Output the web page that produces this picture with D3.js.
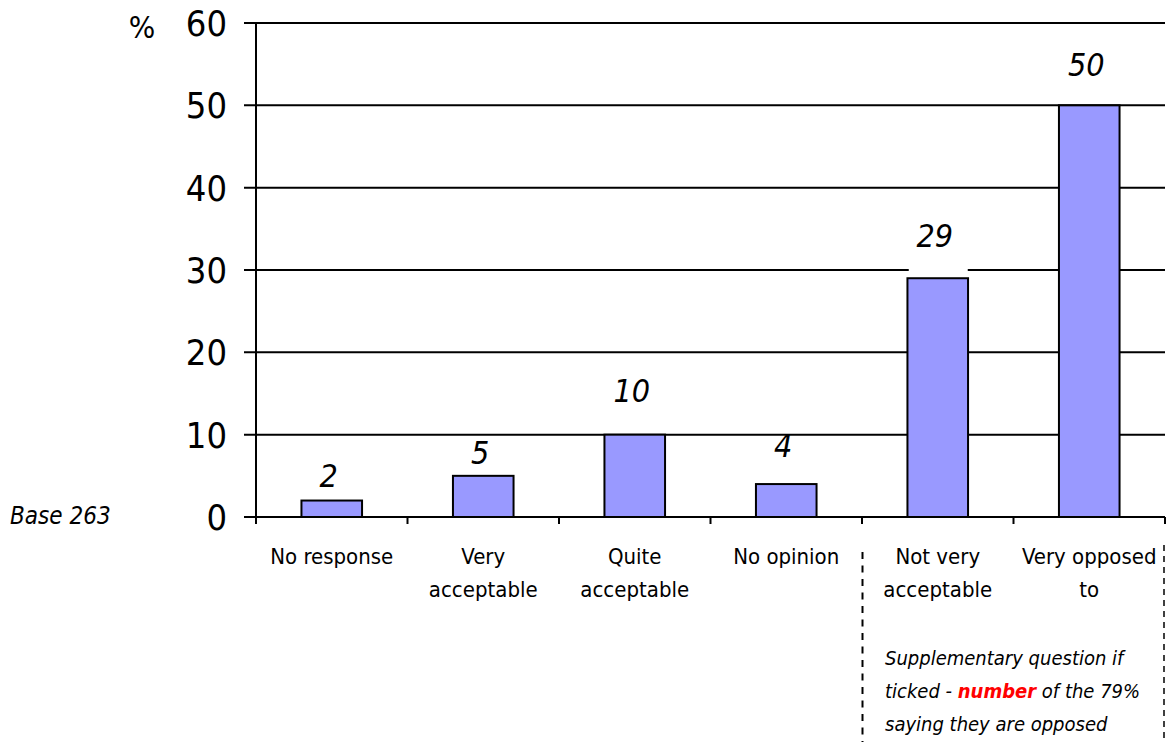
<!DOCTYPE html>
<html>
<head>
<meta charset="utf-8">
<script src="https://cdn.jsdelivr.net/npm/d3@7/dist/d3.min.js"></script>
<style>
  html, body { margin: 0; padding: 0; background: #fff; }
  svg { display: block; }
  text { font-family: "DejaVu Sans Condensed", "DejaVu Sans", sans-serif; fill: #000; }
</style>
</head>
<body>
<svg id="chart" width="1176" height="742"></svg>
<script>
// Survey answers (% of respondents, base 263)
const categories = [
  ["No response"],
  ["Very", "acceptable"],
  ["Quite", "acceptable"],
  ["No opinion"],
  ["Not very", "acceptable"],
  ["Very opposed", "to"]
];
const values = [2, 5, 10, 4, 29, 50];
const yTicks = [0, 10, 20, 30, 40, 50, 60];
const baseNote = "Base 263";
const noteLines = [
  [{ t: "Supplementary question if" }],
  [{ t: "ticked - " }, { t: "number", hl: true }, { t: " of the 79%" }],
  [{ t: "saying they are opposed" }]
];

// Vertical gap (px) between each bar top and its value label
const labelGap = [14, 12, 33, 27, 31, 29];

const svg = d3.select("#chart");
const plotLeft = 256, plotRight = 1165, plotTop = 23, plotBottom = 517;

const x = d3.scaleBand()
  .domain(d3.range(categories.length))
  .range([plotLeft, plotRight])
  .paddingInner(0.6)
  .paddingOuter(0.3);

const y = d3.scaleLinear().domain([0, 60]).range([plotBottom, plotTop]);

// Horizontal gridlines with their tick stubs
svg.append("g")
  .selectAll("line")
  .data(yTicks)
  .join("line")
  .attr("x1", plotLeft - 12).attr("x2", plotRight)
  .attr("y1", d => y(d)).attr("y2", d => y(d))
  .attr("stroke", "#000").attr("stroke-width", 2);

// Y tick labels
svg.append("g")
  .selectAll("text")
  .data(yTicks)
  .join("text")
  .attr("x", 227)
  .attr("y", d => y(d))
  .attr("dy", "0.36em")
  .attr("text-anchor", "end")
  .attr("font-size", 36)
  .text(d => d);

svg.append("text")
  .attr("x", 142).attr("y", 38)
  .attr("text-anchor", "middle")
  .attr("font-size", 31)
  .text("%");

// Y axis line
svg.append("line")
  .attr("x1", plotLeft).attr("x2", plotLeft)
  .attr("y1", plotTop).attr("y2", plotBottom + 7)
  .attr("stroke", "#000").attr("stroke-width", 2);

// Category ticks under the baseline
const bounds = d3.range(categories.length + 1).map(i => plotLeft + i * x.step());
svg.append("g")
  .selectAll("line")
  .data(bounds)
  .join("line")
  .attr("x1", d => d).attr("x2", d => d)
  .attr("y1", plotBottom).attr("y2", plotBottom + 7)
  .attr("stroke", "#000").attr("stroke-width", 2);

// Bars
svg.append("g")
  .selectAll("rect")
  .data(values)
  .join("rect")
  .attr("x", (d, i) => x(i))
  .attr("width", x.bandwidth())
  .attr("y", d => y(d))
  .attr("height", d => y(0) - y(d))
  .attr("fill", "#9999FF")
  .attr("stroke", "#000")
  .attr("stroke-width", 2);

// Value labels (the "29" box is opaque and masks the gridline beneath)
const labels = svg.append("g")
  .selectAll("g")
  .data(values)
  .join("g")
  .attr("transform", (d, i) =>
    `translate(${x(i) + x.bandwidth() / 2 - 3},${y(d) - labelGap[i]})`);

labels.filter(d => d === 29)
  .append("rect")
  .attr("x", -26).attr("y", -32)
  .attr("width", 59).attr("height", 59)
  .attr("fill", "#fff");

labels.append("text")
  .attr("text-anchor", "middle")
  .attr("font-size", 32)
  .attr("font-style", "italic")
  .text(d => d);

// Category labels
const cat = svg.append("g")
  .selectAll("text")
  .data(categories)
  .join("text")
  .attr("x", (d, i) => x(i) + x.bandwidth() / 2)
  .attr("y", 564)
  .attr("text-anchor", "middle")
  .attr("font-size", 22);
cat.selectAll("tspan")
  .data(d => d)
  .join("tspan")
  .attr("x", function () { return this.parentNode.getAttribute("x"); })
  .attr("dy", (d, j) => j === 0 ? 0 : 33)
  .text(d => d);

// Base note
svg.append("text")
  .attr("x", 10).attr("y", 524)
  .attr("font-size", 24)
  .attr("font-style", "italic")
  .text(baseNote);

// Dashed bracket around the last two categories
svg.append("line")
  .attr("x1", 862.5).attr("x2", 862.5)
  .attr("y1", 552).attr("y2", 742)
  .attr("stroke", "#000").attr("stroke-width", 2)
  .attr("stroke-dasharray", "7,6.5");
svg.append("line")
  .attr("x1", 1164).attr("x2", 1164)
  .attr("y1", 545).attr("y2", 742)
  .attr("stroke", "#000").attr("stroke-width", 1.5)
  .attr("stroke-dasharray", "6,5");

// Supplementary note
const note = svg.append("g")
  .selectAll("text")
  .data(noteLines)
  .join("text")
  .attr("x", 885)
  .attr("y", (d, i) => 665 + i * 33)
  .attr("font-size", 20)
  .attr("font-style", "italic");
note.selectAll("tspan")
  .data(d => d)
  .join("tspan")
  .attr("font-weight", d => d.hl ? "bold" : null)
  .style("fill", d => d.hl ? "#ff0000" : "#000")
  .text(d => d.t);
</script>
</body>
</html>
